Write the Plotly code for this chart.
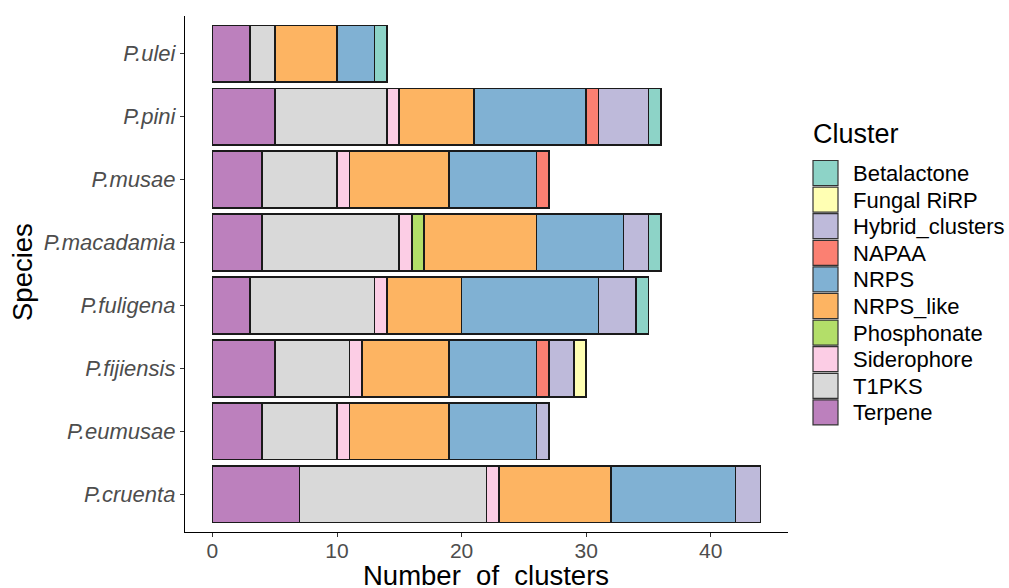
import plotly.graph_objects as go

species = ["P.cruenta", "P.eumusae", "P.fijiensis", "P.fuligena",
           "P.macadamia", "P.musae", "P.pini", "P.ulei"]

# stacking order from left to right
clusters = ["Terpene", "T1PKS", "Siderophore", "Phosphonate", "NRPS_like",
            "NRPS", "NAPAA", "Hybrid_clusters", "Fungal RiRP", "Betalactone"]

# values per cluster, in species order above
Terpene         = [7, 4, 5, 3, 4, 4, 5, 3]
T1PKS           = [15, 6, 6, 10, 11, 6, 9, 2]
Siderophore     = [1, 1, 1, 1, 1, 1, 1, 0]
Phosphonate     = [0, 0, 0, 0, 1, 0, 0, 0]
NRPS_like       = [9, 8, 7, 6, 9, 8, 6, 5]
NRPS            = [10, 7, 7, 11, 7, 7, 9, 3]
NAPAA           = [0, 0, 1, 0, 0, 1, 1, 0]
Hybrid_clusters = [2, 1, 2, 3, 2, 0, 4, 0]
Fungal_RiRP     = [0, 0, 1, 0, 0, 0, 0, 0]
Betalactone     = [0, 0, 0, 1, 1, 0, 1, 1]

values = {
    "Terpene": Terpene, "T1PKS": T1PKS, "Siderophore": Siderophore,
    "Phosphonate": Phosphonate, "NRPS_like": NRPS_like, "NRPS": NRPS,
    "NAPAA": NAPAA, "Hybrid_clusters": Hybrid_clusters,
    "Fungal RiRP": Fungal_RiRP, "Betalactone": Betalactone,
}

colors = {
    "Betalactone": "#8DD3C7", "Fungal RiRP": "#FFFFB3",
    "Hybrid_clusters": "#BEBADA", "NAPAA": "#FB8072", "NRPS": "#80B1D3",
    "NRPS_like": "#FDB462", "Phosphonate": "#B3DE69",
    "Siderophore": "#FCCDE5", "T1PKS": "#D9D9D9", "Terpene": "#BC80BD",
}

legend_order = ["Betalactone", "Fungal RiRP", "Hybrid_clusters", "NAPAA", "NRPS",
                "NRPS_like", "Phosphonate", "Siderophore", "T1PKS", "Terpene"]

fig = go.Figure()
for c in clusters:
    vals = values[c]
    ys = [s for s, v in zip(species, vals) if v > 0]
    xs = [v for v in vals if v > 0]
    fig.add_trace(go.Bar(
        y=ys, x=xs, name=c, orientation="h",
        marker=dict(color=colors[c], line=dict(color="#1a1a1a", width=1.6)),
        width=0.9, showlegend=False,
    ))

W, H = 1009, 588
L, R, T, B = 185, 221, 16, 56
pw = W - L - R
ph = H - T - B

def px_x(px):
    return (px - L) / pw

def px_y(py):
    return (H - B - py) / ph

FONT = "Liberation Sans, Arial"
shapes = []
annotations = []
annotations.append(dict(text="Cluster", x=px_x(811), y=px_y(134), xref="paper", yref="paper",
                        xanchor="left", yanchor="middle", showarrow=False,
                        font=dict(size=27, color="black", family=FONT)))
for i, c in enumerate(legend_order):
    top = 160.5 + i * 26.6
    shapes.append(dict(type="rect", xref="paper", yref="paper",
                       x0=px_x(813), x1=px_x(838), y0=px_y(top), y1=px_y(top + 25),
                       fillcolor=colors[c], line=dict(color="#333333", width=1.2)))
    annotations.append(dict(text=c, x=px_x(851), y=px_y(top + 13), xref="paper", yref="paper",
                            xanchor="left", yanchor="middle", showarrow=False,
                            font=dict(size=22, color="black", family=FONT)))

# axis titles
annotations.append(dict(text="Number_of_clusters", x=px_x(486), y=px_y(575),
                        xref="paper", yref="paper", xanchor="center", yanchor="middle",
                        showarrow=False, font=dict(size=27.5, color="black", family=FONT)))
annotations.append(dict(text="Species", x=px_x(22), y=px_y(272), textangle=-90,
                        xref="paper", yref="paper", xanchor="center", yanchor="middle",
                        showarrow=False, font=dict(size=27.5, color="black", family=FONT)))

fig.update_layout(
    barmode="stack",
    width=W, height=H,
    margin=dict(l=L, r=R, t=T, b=B),
    plot_bgcolor="white", paper_bgcolor="white",
    font=dict(family=FONT, color="black"),
    shapes=shapes, annotations=annotations,
    xaxis=dict(
        automargin=False,
        range=[-2.2, 46.2], tickvals=[0, 10, 20, 30, 40],
        showgrid=False, zeroline=False,
        showline=True, linecolor="black", linewidth=1.3,
        ticks="outside", ticklen=4, tickcolor="#333333", tickwidth=1,
        tickfont=dict(size=21, color="#4D4D4D"),
        ticklabelstandoff=-4,
    ),
    yaxis=dict(
        automargin=False,
        range=[-0.6, 7.6], categoryorder="array", categoryarray=species,
        showgrid=False, zeroline=False,
        showline=True, linecolor="black", linewidth=1.3,
        ticks="outside", ticklen=4, tickcolor="#333333", tickwidth=1,
        tickfont=dict(size=22, color="#4D4D4D", style="italic"),
    ),
)

fig.write_html("out.html", config={"displayModeBar": False})

# remove the browser's default page margin so the figure sits at the window origin
with open("out.html", "r", encoding="utf-8") as f:
    html = f.read()
html = html.replace("<body>", '<body style="margin:0;overflow:hidden">', 1)
with open("out.html", "w", encoding="utf-8") as f:
    f.write(html)
